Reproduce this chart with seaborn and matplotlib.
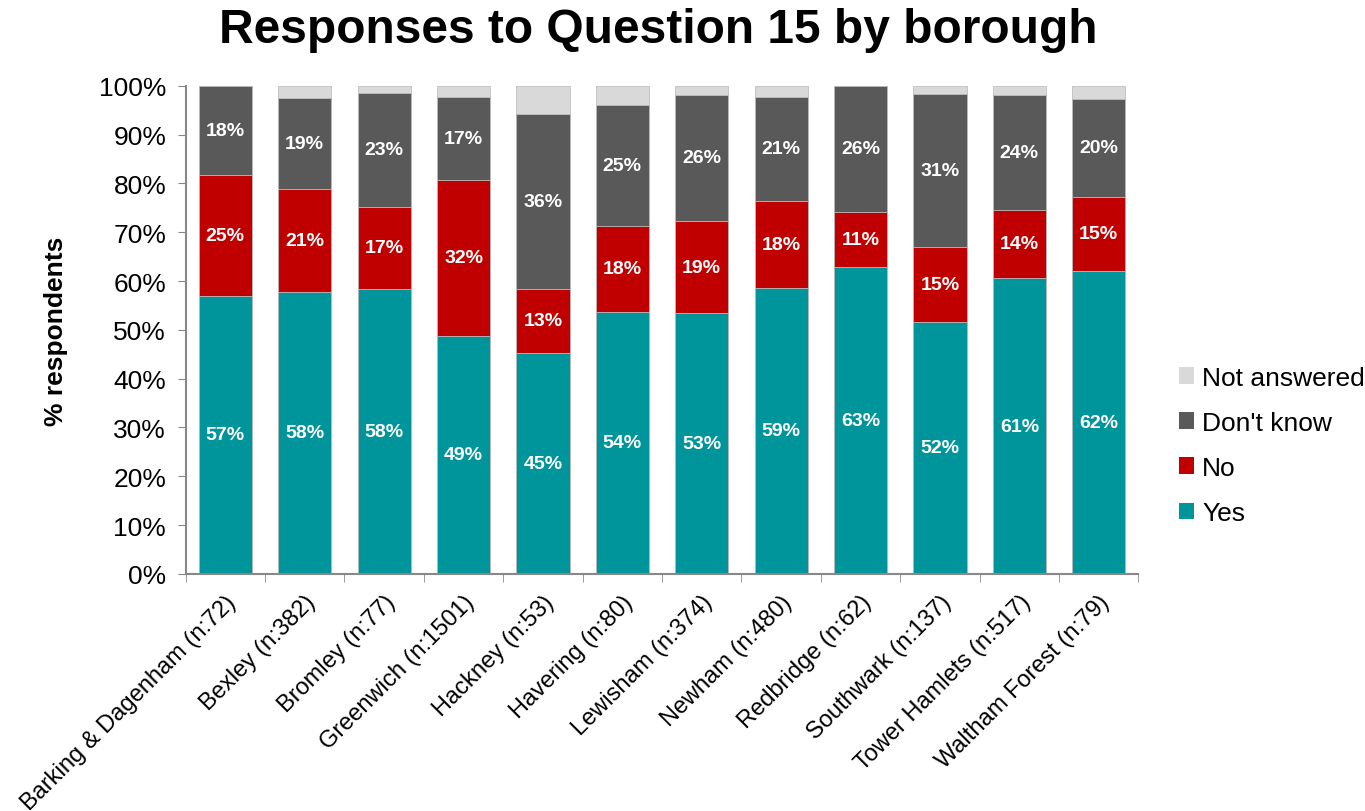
import matplotlib
matplotlib.use("Agg")
import matplotlib.pyplot as plt
from matplotlib.patches import Patch
import seaborn as sns
import numpy as np
import pandas as pd

boroughs = ["Barking & Dagenham (n:72)", "Bexley (n:382)", "Bromley (n:77)",
            "Greenwich (n:1501)", "Hackney (n:53)", "Havering (n:80)",
            "Lewisham (n:374)", "Newham (n:480)", "Redbridge (n:62)",
            "Southwark (n:137)", "Tower Hamlets (n:517)", "Waltham Forest (n:79)"]
yes = [57.0, 57.8, 58.4, 48.8, 45.3, 53.7, 53.4, 58.6, 62.9, 51.6, 60.6, 62.1]
no = [24.8, 21.1, 16.8, 31.9, 13.1, 17.6, 18.9, 17.8, 11.3, 15.4, 14.0, 15.2]
dont_know = [18.2, 18.6, 23.4, 17.0, 35.9, 24.8, 25.9, 21.4, 25.8, 31.4, 23.6, 20.0]
not_answered = [0.0, 2.5, 1.4, 2.3, 5.7, 3.9, 1.8, 2.2, 0.0, 1.6, 1.8, 2.7]

series = ["Yes", "No", "Don't know", "Not answered"]
colors = {"Yes": "#00949B", "No": "#C00000", "Don't know": "#595959", "Not answered": "#D9D9D9"}
label_series = ["Yes", "No", "Don't know"]

sns.set_style("white")
plt.rcParams['font.family'] = ['Liberation Sans', 'DejaVu Sans']
plt.rcParams['text.color'] = 'black'
plt.rcParams['axes.labelcolor'] = 'black'
plt.rcParams['xtick.color'] = 'black'
plt.rcParams['ytick.color'] = 'black'

df = pd.DataFrame({"borough": boroughs, "Yes": yes, "No": no,
                   "Don't know": dont_know, "Not answered": not_answered})
cum = df[series].cumsum(axis=1)

fig = plt.figure(figsize=(13.65, 8.12), dpi=100)
ax = fig.add_axes([0.136, 0.292, 0.698, 0.601])

for s in reversed(series):
    sns.barplot(x=df["borough"], y=cum[s], color=colors[s], ax=ax, width=0.67,
                edgecolor="#BFBFBF", linewidth=0.6, saturation=1)

for i in range(len(df)):
    base = 0.0
    for s in series:
        v = df[s].iloc[i]
        if s in label_series:
            ax.text(i, base + v / 2, f"{round(v):.0f}%", ha="center", va="center",
                    color="white", fontsize=14, fontweight="bold")
        base += v

ax.set_xlim(-0.5, len(df) - 0.5)
ax.set_ylim(0, 100)
ax.set_yticks(np.arange(0, 101, 10))
ax.set_yticklabels([f"{v}%" for v in range(0, 101, 10)], fontsize=19)
ax.set_xticks(np.arange(len(df)))
ax.set_xticklabels(boroughs, rotation=45, ha="right", rotation_mode="anchor", fontsize=17)
ax.set_xticks(np.arange(-0.5, len(df)), minor=True)
ax.tick_params(axis="x", which="major", length=0, pad=12)
ax.tick_params(axis="x", which="minor", length=6, color="#888888", direction="out", bottom=True)
ax.tick_params(axis="y", length=6, color="#888888", direction="out", left=True, pad=8)
ax.set_xlabel("")
ax.set_ylabel("% respondents", fontsize=19, fontweight="bold", labelpad=22)
for side in ["top", "right"]:
    ax.spines[side].set_visible(False)
for side in ["left", "bottom"]:
    ax.spines[side].set_color("#888888")
    ax.spines[side].set_linewidth(1.5)

handles = [Patch(facecolor=colors[s], edgecolor="none", label=s) for s in reversed(series)]
fig.legend(handles=handles, loc="center left", bbox_to_anchor=(0.846, 0.45),
           frameon=False, fontsize=19, handlelength=0.6, handleheight=0.6,
           handletextpad=0.3, labelspacing=0.8)

fig.suptitle("Responses to Question 15 by borough", x=0.482, y=0.99,
             fontsize=34.5, fontweight="bold")

fig.savefig("out.png", dpi=100)
